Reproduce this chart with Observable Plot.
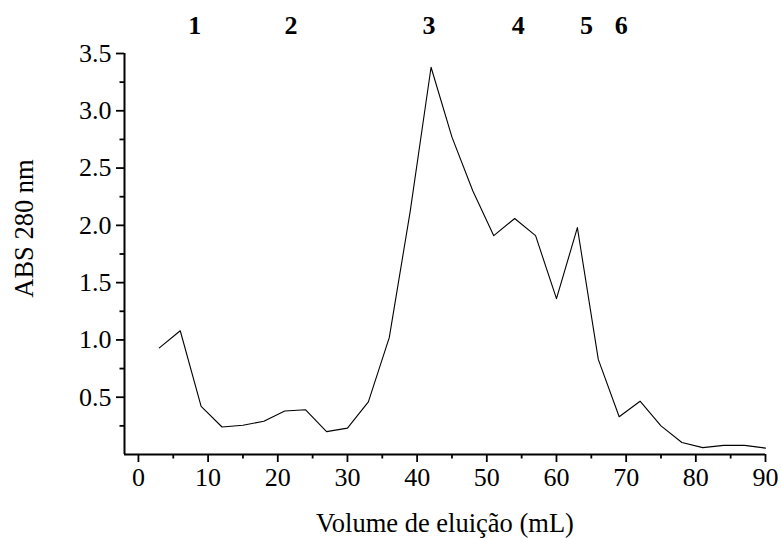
<!DOCTYPE html>
<html>
<head>
<meta charset="utf-8">
<script src="https://cdn.jsdelivr.net/npm/d3@7"></script>
<script src="https://cdn.jsdelivr.net/npm/@observablehq/plot@0.6"></script>
<style>
  html, body { margin: 0; padding: 0; background: #fff; }
  svg { display: block; }
  svg text { font-family: 'Liberation Serif', 'Times New Roman', serif; }
</style>
</head>
<body>
<div id="chart"></div>
<script>
const volume = [3, 6, 9, 12, 15, 18, 21, 24, 27, 30, 33, 36, 39, 42, 45, 48, 51, 54, 57, 60, 63, 66, 69, 72, 75, 78, 81, 84, 87, 90];
const absorbance = [0.93, 1.08, 0.42, 0.24, 0.255, 0.29, 0.38, 0.39, 0.20, 0.23, 0.46, 1.02, 2.12, 3.38, 2.77, 2.30, 1.91, 2.06, 1.91, 1.36, 1.98, 0.83, 0.33, 0.465, 0.25, 0.105, 0.06, 0.08, 0.08, 0.056];
const peakLabels = ["1", "2", "3", "4", "5", "6"];
const peakPositions = [8.1, 21.9, 41.7, 54.5, 64.3, 69.3];
const xMajorTicks = [0, 10, 20, 30, 40, 50, 60, 70, 80, 90];
const xMinorTicks = [5, 15, 25, 35, 45, 55, 65, 75, 85];
const yMajorTicks = [0.5, 1.0, 1.5, 2.0, 2.5, 3.0, 3.5];
const yMinorTicks = [0.25, 0.75, 1.25, 1.75, 2.25, 2.75, 3.25];
const xLabel = "Volume de eluição (mL)";
const yLabel = "ABS 280 nm";

const data = volume.map((v, i) => ({v, a: absorbance[i]}));
const peaks = peakLabels.map((t, i) => ({t, x: peakPositions[i]}));

const font = "'Liberation Serif', 'Times New Roman', serif";

const chart = Plot.plot({
  width: 781,
  height: 538,
  marginLeft: 124,
  marginRight: 16,
  marginTop: 53,
  marginBottom: 84,
  style: {fontFamily: font, background: "#fff", color: "#000"},
  x: {domain: [-2, 90]},
  y: {domain: [0, 3.5]},
  marks: [
    Plot.axisX(xMajorTicks, {tickSize: 8, text: null, strokeWidth: 1.8, label: null}),
    Plot.axisX(xMajorTicks, {tickSize: 8, tickPadding: 5, fontSize: 26, fontFamily: font, fill: "#000", label: null, tickFormat: d3.format("d"), stroke: "none"}),
    Plot.axisX(xMinorTicks, {tickSize: 4.5, text: null, strokeWidth: 1.8, label: null}),
    Plot.axisY(yMajorTicks, {tickSize: 8, text: null, strokeWidth: 1.8, label: null}),
    Plot.axisY(yMajorTicks, {tickSize: 8, tickPadding: 5, fontSize: 26, fontFamily: font, fill: "#000", label: null, tickFormat: d3.format(".1f"), stroke: "none"}),
    Plot.axisY(yMinorTicks, {tickSize: 4.5, text: null, strokeWidth: 1.8, label: null}),
    Plot.ruleY([0], {stroke: "#000", strokeWidth: 2}),
    Plot.ruleX([-2], {stroke: "#000", strokeWidth: 2}),
    Plot.line(data, {x: "v", y: "a", stroke: "#000", strokeWidth: 1.1}),
    Plot.text(peaks, {x: "x", y: 3.74, text: "t", fontSize: 26, fontWeight: "bold", fontFamily: font, clip: false, fill: "#000"}),
    Plot.text([xLabel], {frameAnchor: "bottom", lineAnchor: "middle", dy: 69, fontSize: 26.5, fontFamily: font, fill: "#000"}),
    Plot.text([yLabel], {frameAnchor: "left", textAnchor: "middle", lineAnchor: "middle", dx: -100, dy: -25.5, rotate: -90, fontSize: 26.5, fontFamily: font, fill: "#000"})
  ]
});
document.getElementById("chart").appendChild(chart);
</script>
</body>
</html>
